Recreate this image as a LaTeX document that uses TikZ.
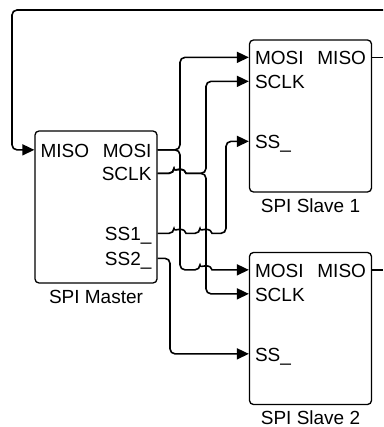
\documentclass[tikz,border=0pt]{standalone}
\usepackage{fontspec}
\setmainfont{Liberation Sans}
\usetikzlibrary{positioning,calc,arrows.meta}

% small bridge where a wire crosses another one
\newcommand{\hopover}[1]{-- ($(#1)+(-6,0)$) [sharp corners] arc[start angle=180, end angle=360, x radius=6, y radius=4] [rounded corners=5pt]}

\begin{document}
\begin{tikzpicture}[
    x=1pt, y=-1pt,
    box/.style={
        rectangle,
        draw,
        line width=1.3pt,
        rounded corners=4pt,
        minimum width=122pt,
        minimum height=152pt
      },
    port/.style={inner sep=0pt, text height=15pt, text depth=0pt, font=\fontsize{19pt}{22pt}\selectfont},
    caption/.style={inner sep=0pt, font=\fontsize{19pt}{22pt}\selectfont},
    wire/.style={draw, line width=1.6pt, rounded corners=5pt, -{Triangle[length=12pt,width=11pt]}},
    stub/.style={draw, line width=1.6pt}
    ]

    \useasboundingbox (0,0) rectangle (383,427);

    % boxes
    \node[box] (master) at (96,207) {};
    \node[box] (slave1) at (310.5,116) {};
    \node[box] (slave2) at (310.5,328.5) {};

    \node[caption,below=6pt of master] (capM) {SPI Master};
    \node[caption,below=6pt of slave1] (capA) {SPI Slave 1};
    \node[caption,below=5pt of slave2] (capB) {SPI Slave 2};

    % master ports
    \node[port,anchor=west] (mMISO) at ($(master.north west)+(6,19.5)$) {MISO};
    \node[port,anchor=east] (mMOSI) at ($(master.north east)+(-6,19.5)$) {MOSI};
    \node[port,anchor=east] (mSCLK) at ($(master.north east)+(-6,43)$) {SCLK};
    \node[port,anchor=east] (mSSa) at ($(master.north east)+(-6,103)$) {SS1\_};
    \node[port,anchor=east] (mSSb) at ($(master.north east)+(-6,128)$) {SS2\_};

    % slave ports
    \foreach \s in {1,2} {
        \node[port,anchor=west] (s\s MOSI) at ($(slave\s.north west)+(6,18)$) {MOSI};
        \node[port,anchor=east] (s\s MISO) at ($(slave\s.north east)+(-6,18)$) {MISO};
        \node[port,anchor=west] (s\s SCLK) at ($(slave\s.north west)+(6,42)$) {SCLK};
        \node[port,anchor=west] (s\s SS) at ($(slave\s.north west)+(6,102)$) {SS\_};
    }

    % bus columns and picture edge
    \coordinate (busSSb) at (170,0);
    \coordinate (busMOSI) at (180,0);
    \coordinate (busSCLK) at (206,0);
    \coordinate (busSSa) at (226,0);
    \coordinate (edge) at (383,0);
    \coordinate (loopTop) at (383,10);
    \coordinate (loopLeft) at (12,10);

    % MISO return
    \draw[stub] (slave1.east |- s1MISO) -- (edge |- s1MISO);
    \draw[stub] (slave2.east |- s2MISO) -- (edge |- s2MISO);
    \draw[wire] (loopTop) -- (loopLeft) |- (master.west |- mMISO);

    % MOSI
    \draw[wire] (master.east |- mMOSI) -| (busMOSI |- s1MOSI) -- (slave1.west |- s1MOSI);
    \draw[wire] (master.east |- mMOSI) -| (busMOSI |- s2MOSI) \hopover{busSCLK |- s2MOSI} -- (slave2.west |- s2MOSI);

    % SCLK
    \draw[wire] (master.east |- mSCLK) \hopover{busMOSI |- mSCLK} -| (busSCLK |- s1SCLK) -- (slave1.west |- s1SCLK);
    \draw[wire] (master.east |- mSCLK) \hopover{busMOSI |- mSCLK} -| (busSCLK |- s2SCLK) -- (slave2.west |- s2SCLK);

    % slave selects
    \draw[wire] (master.east |- mSSa) \hopover{busMOSI |- mSSa} \hopover{busSCLK |- mSSa} -| (busSSa |- s1SS) -- (slave1.west |- s1SS);
    \draw[wire] (master.east |- mSSb) -| (busSSb |- s2SS) -- (slave2.west |- s2SS);

  \end{tikzpicture}
\end{document}
